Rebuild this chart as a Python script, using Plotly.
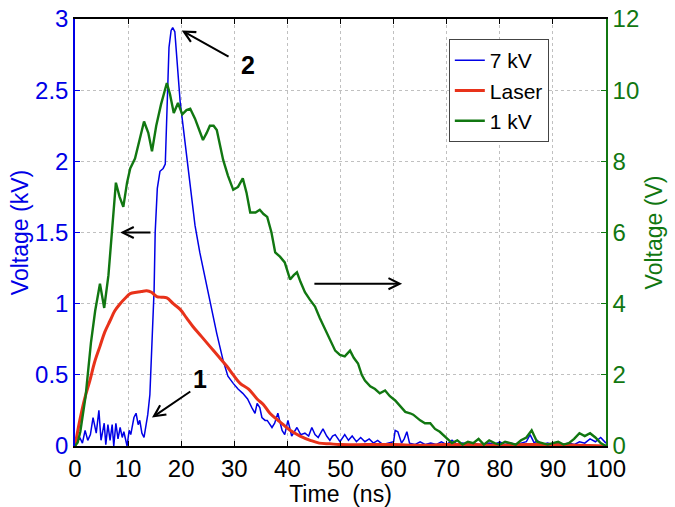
import plotly.graph_objects as go

# ---- data ----
t_7kv = [0, 0.5, 0.9, 1.4, 1.9, 2.4, 2.9, 3.4, 4.0, 4.5,
         4.9, 5.2, 5.5, 5.8, 6.2, 6.6, 7.0, 7.3, 7.7, 8.1,
         8.5, 8.9, 9.2, 9.8, 10.2, 10.5, 11.1, 11.5, 11.9, 12.2,
         12.6, 13.0, 13.4, 13.7, 14.1, 14.5, 14.9, 15.1, 15.5, 16.0,
         16.6, 17.0, 17.3, 17.7, 18.1, 18.4, 18.8, 19.2, 19.8, 20.7,
         21.7, 22.6, 23.5, 24.8, 25.8, 26.7, 27.9, 28.8, 29.8, 30.7,
         31.6, 32.5, 33.3, 33.9, 34.3, 34.8, 35.2, 35.8, 36.2, 37.1,
         37.6, 38.2, 39.0, 39.5, 40.1, 40.8, 41.8, 42.5, 43.3, 44.0,
         44.6, 45.2, 45.8, 46.7, 47.4, 48.0, 48.5, 49.0, 49.9, 50.8,
         51.5, 52.2, 53, 53.8, 54.6, 55.4, 56.2, 57, 58, 59,
         60, 60.3, 60.8, 61.5, 62, 62.5, 63, 64, 65, 66,
         67, 68, 69, 70, 71, 72, 73, 74, 75, 76,
         77, 78, 79, 80, 81, 82, 83, 84, 85, 85.7,
         86.5, 87, 88, 89, 90, 91, 92, 93, 94, 95,
         96, 97, 98, 99, 100]
v_7kv = [0, 0.03, 0.06, 0.02, 0.11, 0.04, 0.08, 0.20, 0.09, 0.25,
         0.04, 0.10, 0.16, 0.01, 0.15, 0.04, 0.15, 0.0, 0.16, 0.05,
         0.13, 0.06, 0.10, 0.0, 0.11, 0.08, 0.20, 0.23, 0.15, 0.18,
         0.09, 0.06, 0.15, 0.22, 0.36, 0.74, 1.10, 1.50, 1.81, 1.93,
         1.95, 1.98, 2.33, 2.80, 2.92, 2.94, 2.91, 2.70, 2.42, 2.14,
         1.81, 1.55, 1.36, 1.12, 0.93, 0.79, 0.60, 0.49, 0.44, 0.40,
         0.37, 0.33, 0.27, 0.23, 0.30, 0.27, 0.20, 0.18, 0.18, 0.13,
         0.16, 0.23, 0.11, 0.08, 0.18, 0.07, 0.13, 0.08, 0.09, 0.07,
         0.13, 0.08, 0.06, 0.12, 0.07, 0.04, 0.07, 0.08, 0.03, 0.08,
         0.04, 0.07, 0.03, 0.06, 0.03, 0.05, 0.02, 0.04, 0.01, 0.02,
         0.03, 0.11, 0.10, 0.02, 0.05, 0.10, 0.02, 0.01, 0.03, 0.01,
         0.02, 0.01, 0.03, 0.01, 0.04, 0.01, 0.02, 0.01, 0.02, 0.01,
         0.01, 0.02, 0.01, 0.03, 0.01, 0.02, 0.01, 0.02, 0.03, 0.08,
         0.02, 0.04, 0.01, 0.02, 0.01, 0.02, 0.01, 0.02, 0.01, 0.03,
         0.02, 0.05, 0.03, 0.06, 0.02]

t_laser = [0, 0.9, 1.8, 2.8, 3.7, 4.7, 5.6, 6.6, 7.5, 8.5,
           9.5, 10.4, 11.6, 12.5, 13.5, 14.4, 15.4, 16.3, 17.3, 18.5,
           19.8, 21, 22.2, 23.8, 25.4, 27, 28.6, 29.8, 31.1, 32.7,
           34.3, 35.5, 36.7, 38.6, 40.5, 42.4, 44.3, 46, 48, 50,
           55, 60, 65, 70, 75, 80, 85, 90, 95, 100]
v_laser = [0, 0.18, 0.33, 0.46, 0.59, 0.70, 0.80, 0.88, 0.95, 1.0,
           1.04, 1.07, 1.08, 1.085, 1.09, 1.08, 1.05, 1.045, 1.04, 1.0,
           0.96, 0.90, 0.84, 0.77, 0.70, 0.63, 0.56, 0.50, 0.44, 0.40,
           0.33, 0.29, 0.23, 0.17, 0.11, 0.07, 0.04, 0.02, 0.015, 0.01,
           0.01, 0.01, 0.005, 0.01, 0.01, 0.005, 0.01, 0.01, 0.005, 0.0]

t_1kv = [0, 0.5, 1, 2, 3, 3.8, 4.7, 5.5, 6.3, 7,
         7.7, 8.4, 9.1, 9.8, 10.4, 11.3, 12.2, 13, 13.8, 14.5,
         15.3, 16.2, 17.3, 17.9, 18.6, 19.4, 20.2, 21, 21.7, 22.6,
         23.4, 24.1, 24.8, 25.4, 26.1, 26.7, 27.9, 28.8, 29.8, 30.7,
         31.6, 32.3, 33, 34, 34.8, 35.5, 36.2, 37, 37.7, 38.6,
         39.5, 40.5, 41.2, 41.8, 42.5, 43.3, 44.2, 45.2, 46.1, 47.1,
         48, 49, 49.9, 50.8, 51.8, 52.5, 53.3, 54, 54.6, 55.6,
         56.5, 57.4, 58.4, 59.3, 60.3, 61.2, 62.2, 63.1, 63.7, 65,
         65.9, 66.9, 67.8, 68.7, 69.5, 70.3, 71, 72, 73, 74,
         75, 76, 77, 78, 79, 80, 81, 82, 83, 84,
         85, 86, 87, 88, 89, 90, 91, 92, 93, 94,
         95, 96, 97, 98, 99, 100]
v_1kv = [0, 0.1, 0.4, 1.4, 2.9, 3.8, 4.56, 3.88, 4.8, 6.0,
         7.4, 7.0, 6.72, 7.4, 7.8, 8.08, 8.6, 9.12, 8.8, 8.28,
         9.0, 9.6, 10.2, 9.88, 9.36, 9.64, 9.32, 9.44, 9.48, 9.2,
         8.88, 8.6, 8.8, 9.0, 9.0, 8.88, 8.04, 7.6, 7.2, 7.28,
         7.52, 7.12, 6.56, 6.56, 6.64, 6.52, 6.44, 6.0, 5.44, 5.32,
         5.16, 4.68, 4.8, 4.88, 4.6, 4.32, 4.12, 3.92, 3.6, 3.28,
         2.96, 2.68, 2.56, 2.52, 2.68, 2.48, 2.32, 2.0, 1.84, 1.68,
         1.6, 1.48, 1.56, 1.4, 1.28, 1.12, 0.96, 0.92, 0.88, 0.72,
         0.64, 0.64, 0.48, 0.4, 0.28, 0.16, 0.08, 0.16, 0.04, 0.12,
         0.08, 0.2, 0.04, 0.16, 0.08, 0.04, 0.12, 0.08, 0.04, 0.16,
         0.24, 0.44, 0.12, 0.08, 0.04, 0.08, 0.12, 0.04, 0.08, 0.2,
         0.36, 0.28, 0.36, 0.24, 0.08, 0.0]

x_ticks = [0, 10, 20, 30, 40, 50, 60, 70, 80, 90, 100]
y_left_ticks = [0, 0.5, 1, 1.5, 2, 2.5, 3]
y_right_ticks = [0, 2, 4, 6, 8, 10, 12]

BLUE = "#0000e6"
RED = "#e8321a"
GREEN = "#117711"
FONT = "Arial, Liberation Sans, sans-serif"

fig = go.Figure()
fig.add_trace(go.Scatter(x=t_7kv, y=v_7kv, name="7 kV", mode="lines",
                         line=dict(color=BLUE, width=1.5)))
fig.add_trace(go.Scatter(x=t_laser, y=v_laser, name="Laser", mode="lines",
                         line=dict(color=RED, width=3, shape="spline")))
fig.add_trace(go.Scatter(x=t_1kv, y=v_1kv, name="1 kV", mode="lines", yaxis="y2",
                         line=dict(color=GREEN, width=2.4)))

ann = [
    # (tip x, tip y, tail x, tail y)
    (20.1, 2.92, 29.2, 2.73),
    (14.5, 0.20, 22.0, 0.39),
    (8.5, 1.50, 14.5, 1.50),
    (61.6, 1.14, 44.8, 1.14),
]
for (x, y, ax, ay) in ann:
    fig.add_annotation(x=x, y=y, ax=ax, ay=ay, xref="x", yref="y", axref="x", ayref="y",
                       text="", showarrow=True, arrowhead=5, arrowsize=1.1,
                       arrowwidth=2, arrowcolor="black")
fig.add_annotation(x=32.6, y=2.68, xref="x", yref="y", text="<b>2</b>", showarrow=False,
                   font=dict(size=25, color="black", family=FONT))
fig.add_annotation(x=23.6, y=0.47, xref="x", yref="y", text="<b>1</b>", showarrow=False,
                   font=dict(size=25, color="black", family=FONT))

fig.update_layout(
    width=675, height=507,
    margin=dict(l=75, r=69, t=19, b=61, autoexpand=False),
    paper_bgcolor="white", plot_bgcolor="white",
    font=dict(family=FONT, size=24, color="black"),
    showlegend=True,
    legend=dict(x=0.704, y=0.953, xanchor="left", yanchor="top",
                bgcolor="white", bordercolor="#444", borderwidth=1,
                font=dict(size=21, color="black"), tracegroupgap=0),
    xaxis=dict(range=[0, 100], tickvals=x_ticks, showline=True, linecolor="black",
               linewidth=1.5, mirror="ticks", ticks="inside", ticklen=5,
               tickcolor="black", showgrid=True, gridcolor="#c0c0c0", griddash="dot",
               gridwidth=1, zeroline=False,
               title=dict(text="Time  (ns)", font=dict(size=23), standoff=0),
               tickfont=dict(size=24)),
    yaxis=dict(range=[0, 3], tickvals=y_left_ticks, showline=True, linecolor=BLUE,
               linewidth=1.5, ticks="inside", ticklen=5, tickcolor=BLUE,
               showgrid=True, gridcolor="#c0c0c0", griddash="dot", gridwidth=1,
               zeroline=False, tickfont=dict(size=24, color=BLUE),
               title=dict(text="Voltage (kV)", font=dict(size=23, color=BLUE), standoff=0)),
    yaxis2=dict(range=[0, 12], tickvals=y_right_ticks, overlaying="y", side="right",
                showline=True, linecolor=GREEN, linewidth=1.5, ticks="inside",
                ticklen=5, tickcolor=GREEN, showgrid=False, zeroline=False,
                tickfont=dict(size=24, color=GREEN),
                title=dict(text="Voltage (V)", font=dict(size=23, color=GREEN), standoff=8)),
)

# remove the browser's default 8px page margin so the figure fills the window
fig.write_html("out.html", config={"displayModeBar": False},
               post_script="document.body.style.margin='0';")
